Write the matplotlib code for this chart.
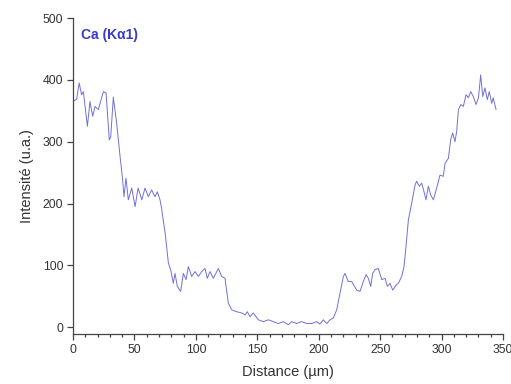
import matplotlib
matplotlib.use("Agg")
import matplotlib.pyplot as plt
from matplotlib.ticker import MultipleLocator

plt.rcParams['font.family'] = ['Liberation Sans', 'DejaVu Sans']

# Profil de Ca le long de la ligne
distance = [0, 3, 5, 7, 8.4, 11.7, 13.8, 16, 17.9, 20.6, 24.7, 26.9, 29.5, 30.7,
            32.8, 35.5, 38.3, 40.4, 41.5, 43.1, 45, 47.8, 50.5, 53, 56, 58.6,
            61.3, 64, 66.7, 68.6, 70.8, 72, 75, 77.6, 79.5, 81.6, 83, 84.9, 87.6,
            89.8, 92, 93.9, 96.6, 99.3, 102, 104.7, 107.4, 109.3, 111.5, 114.2,
            118.3, 121, 123.7, 126.4, 129.2, 133.2, 137.3, 140, 141.9, 144,
            146.8, 150.8, 155, 159, 163, 167, 171.2, 175.2, 178, 182, 186,
            190.2, 194.3, 198.3, 201, 203.7, 206.5, 209.2, 211.9, 214.6, 217.3,
            220, 221.4, 224, 226.8, 230.9, 233.6, 236.3, 238.5, 240.4, 242.3,
            243.9, 245.8, 248.5, 251.3, 254, 255.8, 258, 260.2, 262.9, 264.8,
            267.5, 269.4, 271, 273, 275.7, 278.4, 279.7, 281.9, 283.8, 285.7,
            287.3, 289.2, 291.1, 293.3, 296, 298.7, 301.4, 302.8, 305.5, 307.4,
            309, 310.9, 312.3, 313.7, 315.6, 317.7, 319.9, 321.8, 323.7, 325.8,
            328, 330, 331.8, 333.5, 335.3, 337.2, 338.8, 340.8, 342, 344.3]
intensite = [365, 369, 395, 376, 381, 325, 365, 341, 357, 352, 381, 379, 303, 308,
             372, 330, 276, 238, 211, 241, 206, 225, 195, 225, 206, 225,
             211, 222, 211, 219, 206, 193, 152, 104, 93, 71, 87, 66, 58,
             87, 77, 98, 82, 90, 82, 90, 95, 79, 90, 79,
             95, 82, 79, 39, 28, 25, 23, 20, 25, 17,
             23, 12, 9, 12, 9, 6, 9, 4, 9, 6, 9,
             6, 6, 9, 5, 12, 6, 12, 15, 28, 55,
             82, 87, 74, 74, 60, 58, 74, 85, 79, 66,
             87, 93, 95, 77, 79, 66, 71, 60, 68, 71,
             82, 98, 130, 174, 201, 230, 236, 228, 233, 219,
             206, 228, 214, 206, 225, 246, 244, 265, 273, 303,
             314, 300, 317, 352, 360, 357, 376, 371, 381, 373,
             360, 371, 408, 373, 387, 368, 381, 362, 371, 352]

fig = plt.figure(figsize=(5.11, 3.84), dpi=100)
ax = fig.add_axes([0.1429, 0.1302, 0.8415, 0.8229])

ax.plot(distance, intensite, color='#7070d8', lw=0.7)

ax.set_xlim(0, 350)
ax.set_ylim(-11, 500)
ax.xaxis.set_major_locator(MultipleLocator(50))
ax.xaxis.set_minor_locator(MultipleLocator(10))
ax.yaxis.set_major_locator(MultipleLocator(100))

for s in ['top', 'right']:
    ax.spines[s].set_visible(False)
for s in ['left', 'bottom']:
    ax.spines[s].set_color('#444444')
    ax.spines[s].set_linewidth(0.9)

ax.tick_params(which='major', direction='out', length=4, width=0.9,
               color='#444444', labelsize=8.8, labelcolor='#333333', pad=3)
ax.tick_params(which='minor', direction='out', length=2.5, width=0.9, color='#444444')

ax.set_xlabel('Distance (µm)', fontsize=10.5, color='#333333', labelpad=7)
ax.set_ylabel('Intensité (u.a.)', fontsize=10.5, color='#333333', labelpad=6)

ax.text(0.018, 0.945, 'Ca (K\u03b11)', transform=ax.transAxes, color='#3a3ac8',
        fontsize=10, fontweight='bold', ha='left', va='center')

fig.savefig('out.png', dpi=100)
